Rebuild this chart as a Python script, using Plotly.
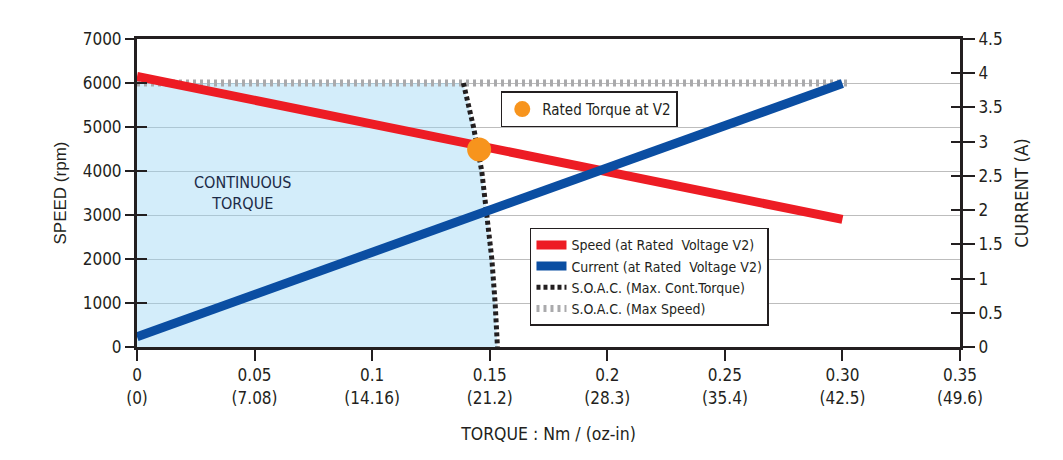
import plotly.graph_objects as go

# ---- data ----
torque_line = [0.0, 0.30]
speed_vals = [6150, 2900]
current_vals = [0.15, 3.85]

soac_torque_x = [0.1388, 0.1431, 0.1466, 0.1490, 0.1509, 0.1523, 0.1533]
soac_torque_y = [6000, 5000, 4000, 3000, 2000, 1000, 0]

soac_speed_x = [0.0, 0.303]
soac_speed_y = [6000, 6000]

rated_x = [0.1455]
rated_y = [4490]

x_tickvals = [0, 0.05, 0.10, 0.15, 0.20, 0.25, 0.30, 0.35]
x_ticktext = ["0<br>(0)", "0.05<br>(7.08)", "0.1<br>(14.16)", "0.15<br>(21.2)",
              "0.2<br>(28.3)", "0.25<br>(35.4)", "0.30<br>(42.5)", "0.35<br>(49.6)"]
y_tickvals = [0, 1000, 2000, 3000, 4000, 5000, 6000, 7000]
y2_tickvals = [0, 0.5, 1, 1.5, 2, 2.5, 3, 3.5, 4, 4.5]
y2_ticktext = ["0", "0.5", "1", "1.5", "2", "2.5", "3", "3.5", "4", "4.5"]

FONT = "DejaVu Sans Condensed, Liberation Sans Narrow, Liberation Sans, sans-serif"
FONT_WIDE = "Liberation Sans, Arial, sans-serif"
TXT = "#231f20"
RED = "#ed1c24"
BLUE = "#0b4ea2"
BLACK = "#231f20"
GRAY = "#aaaaac"
ORANGE = "#f7941d"

fig = go.Figure()

# continuous torque region fill
fill_x = [0.0] + soac_torque_x + [0.0]
fill_y = [soac_speed_y[0]] + soac_torque_y + [0]
fig.add_trace(go.Scatter(x=fill_x, y=fill_y, mode="lines", fill="toself",
                         fillcolor="rgba(150,212,244,0.42)", line=dict(width=0),
                         showlegend=False, hoverinfo="skip"))

fig.add_trace(go.Scatter(x=soac_speed_x, y=soac_speed_y, mode="lines",
                         name="S.O.A.C. (Max Speed)", legendrank=4,
                         line=dict(color=GRAY, width=7, dash="3px,4px")))
fig.add_trace(go.Scatter(x=soac_torque_x, y=soac_torque_y, mode="lines",
                         name="S.O.A.C. (Max. Cont.Torque)", legendrank=3,
                         line=dict(color=BLACK, width=5, dash="4px,3px")))
fig.add_trace(go.Scatter(x=torque_line, y=speed_vals, mode="lines",
                         name="Speed (at Rated  Voltage V2)", legendrank=1,
                         line=dict(color=RED, width=9)))
fig.add_trace(go.Scatter(x=torque_line, y=current_vals, mode="lines", yaxis="y2",
                         name="Current (at Rated  Voltage V2)", legendrank=2,
                         line=dict(color=BLUE, width=9)))
fig.add_trace(go.Scatter(x=rated_x, y=rated_y, mode="markers",
                         name="Rated Torque at V2", legend="legend2",
                         marker=dict(color=ORANGE, size=24)))
# helper traces so inner tick overlays are drawn
fig.add_trace(go.Scatter(x=[None], y=[None], yaxis="y3", showlegend=False, hoverinfo="skip"))
fig.add_trace(go.Scatter(x=[None], y=[None], yaxis="y4", showlegend=False, hoverinfo="skip"))

fig.add_annotation(x=0.045, y=3500, text="CONTINUOUS<br>TORQUE", showarrow=False,
                   font=dict(family=FONT, size=16, color="#1b2a47"))

fig.update_layout(
    width=1063, height=460,
    margin=dict(l=137, r=103, t=39, b=113),
    paper_bgcolor="white", plot_bgcolor="white",
    font=dict(family=FONT, size=17, color=TXT),
    xaxis=dict(range=[0, 0.35], tickvals=x_tickvals, ticktext=x_ticktext,
               showline=True, linecolor=BLACK, linewidth=3, mirror=True,
               ticks="outside", ticklen=11, tickwidth=2, tickcolor=BLACK,
               showgrid=False, zeroline=False,
               title=dict(text="TORQUE : Nm / (oz-in)", standoff=22,
                          font=dict(size=17.5))),
    yaxis=dict(range=[0, 7000], tickvals=y_tickvals,
               showline=True, linecolor=BLACK, linewidth=3,
               ticks="outside", ticklen=9, tickwidth=2, tickcolor=BLACK,
               showgrid=True, gridcolor="#bdbdbd", gridwidth=1, zeroline=False,
               title=dict(text="SPEED (rpm)", standoff=12,
                          font=dict(family=FONT_WIDE, size=17))),
    yaxis2=dict(range=[0, 4.5], tickvals=y2_tickvals, ticktext=y2_ticktext,
                overlaying="y", side="right",
                showline=True, linecolor=BLACK, linewidth=3,
                ticks="outside", ticklen=12, tickwidth=2, tickcolor=BLACK,
                showgrid=False, zeroline=False,
                title=dict(text="CURRENT (A)", standoff=14, font=dict(size=18.5))),
    yaxis3=dict(range=[0, 7000], tickvals=y_tickvals, overlaying="y", side="left",
                showticklabels=False, ticks="inside", ticklen=10, tickwidth=2,
                tickcolor=BLACK, showgrid=False, zeroline=False, showline=False),
    yaxis4=dict(range=[0, 4.5], tickvals=y2_tickvals, overlaying="y", side="right",
                showticklabels=False, ticks="inside", ticklen=9, tickwidth=2,
                tickcolor=BLACK, showgrid=False, zeroline=False, showline=False),
    legend=dict(x=0.4775, y=0.387, xanchor="left", yanchor="top",
                bgcolor="white", bordercolor=BLACK, borderwidth=1.5,
                font=dict(family=FONT, size=14, color=TXT),
                tracegroupgap=0, itemwidth=30),
    legend2=dict(x=0.442, y=0.83, xanchor="left", yanchor="top",
                 bgcolor="white", bordercolor=BLACK, borderwidth=1.5,
                 font=dict(family=FONT, size=15, color=TXT), itemwidth=30),
    showlegend=True,
)

fig.write_html("out.html")
